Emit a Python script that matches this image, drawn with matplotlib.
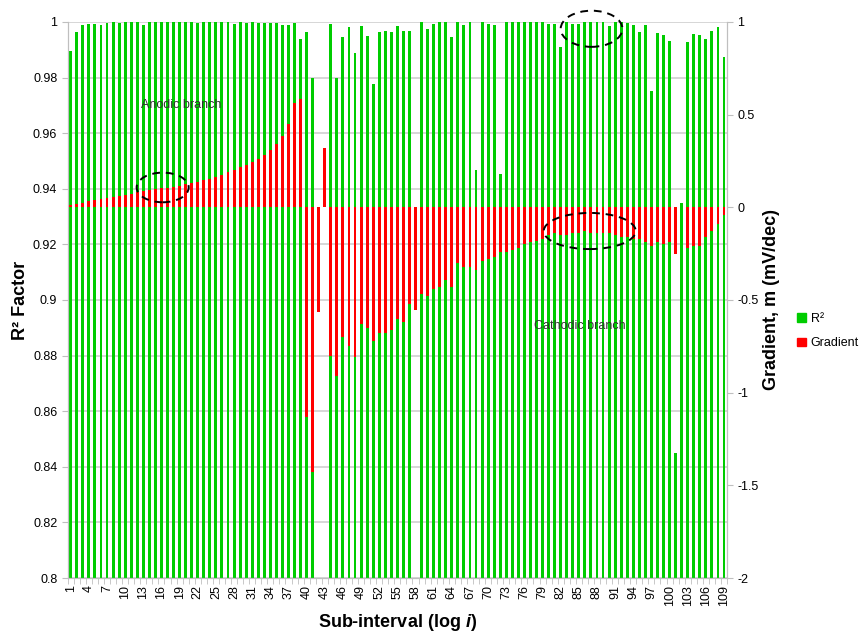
import matplotlib
matplotlib.use("Agg")
import matplotlib.pyplot as plt
from matplotlib.patches import Ellipse, Patch
import numpy as np

plt.rcParams['font.family'] = ['Liberation Sans', 'DejaVu Sans']
plt.rcParams['axes.unicode_minus'] = False
plt.rcParams['mathtext.fontset'] = 'custom'
plt.rcParams['mathtext.it'] = 'Liberation Sans:italic:bold'

# sub-interval index 1..109
intervals = list(range(1, 110))

# R2 factor of each sub-interval (values under 0.8 fall off the axis)
r2 = [0.9895, 0.9964, 0.9988, 0.9994, 0.9994, 0.9990, 0.9995, 0.9998, 0.9995, 0.9998,
      0.9998, 0.9998, 0.9990, 1.0000, 0.9998, 1.0000, 0.9998, 0.9998, 1.0000, 0.9998,
      1.0000, 0.9996, 0.9998, 0.9998, 0.9998, 0.9998, 0.9998, 0.9994, 0.9998, 0.9995,
      0.9998, 0.9995, 0.9995, 0.9995, 0.9995, 0.9990, 0.9988, 0.9995, 0.9937, 0.9962,
      0.9800, 0.7500, 0.7500, 0.9993, 0.9800, 0.9944, 0.9983, 0.9887, 0.9985, 0.9948,
      0.9778, 0.9965, 0.9968, 0.9962, 0.9985, 0.9966, 0.9966, 0.7500, 0.9998, 0.9974,
      0.9992, 0.9998, 0.9998, 0.9944, 0.9998, 0.9990, 1.0000, 0.9468, 0.9998, 0.9992,
      0.9990, 0.9452, 0.9998, 0.9998, 1.0000, 1.0000, 1.0000, 0.9998, 0.9998, 0.9994,
      0.9994, 0.9908, 0.9998, 0.9994, 0.9994, 1.0000, 0.9998, 0.9998, 0.9998, 0.9984,
      0.9998, 1.0000, 0.9995, 0.9990, 0.9965, 0.9988, 0.9753, 0.9960, 0.9953, 0.9932,
      0.8450, 0.9348, 0.9926, 0.9958, 0.9952, 0.9940, 0.9967, 0.9980, 0.9873]

# Tafel gradient of each sub-interval (mV/dec)
gradient = [0.012, 0.018, 0.025, 0.032, 0.038, 0.043, 0.050, 0.056, 0.062, 0.068,
            0.074, 0.080, 0.086, 0.092, 0.098, 0.102, 0.106, 0.111, 0.117, 0.124,
            0.130, 0.138, 0.146, 0.155, 0.165, 0.175, 0.188, 0.200, 0.215, 0.228,
            0.245, 0.263, 0.283, 0.310, 0.340, 0.385, 0.450, 0.565, 0.585, -1.130,
            -1.430, -0.563, 0.322, -0.800, -0.910, -0.700, -0.750, -0.810, -0.630, -0.650,
            -0.720, -0.680, -0.680, -0.660, -0.600, -0.620, -0.520, -0.554, -0.470, -0.480,
            -0.440, -0.430, -0.390, -0.430, -0.300, -0.320, -0.320, -0.340, -0.290, -0.280,
            -0.270, -0.240, -0.240, -0.230, -0.220, -0.200, -0.190, -0.180, -0.170, -0.150,
            -0.140, -0.150, -0.150, -0.140, -0.140, -0.130, -0.140, -0.140, -0.140, -0.140,
            -0.150, -0.160, -0.160, -0.170, -0.170, -0.190, -0.210, -0.190, -0.200, -0.190,
            -0.250, 0.000, -0.220, -0.210, -0.210, -0.160, -0.130, -0.090, -0.040]

left_ticks = [0.8, 0.82, 0.84, 0.86, 0.88, 0.9, 0.92, 0.94, 0.96, 0.98, 1]
right_ticks = [-2, -1.5, -1, -0.5, 0, 0.5, 1]
green = '#00cc00'
red = '#ff0000'
grey = '#bfbfbf'

fig = plt.figure(figsize=(8.68, 6.37), dpi=100)
ax = fig.add_axes([0.078, 0.0926, 0.7596, 0.873])
ax2 = ax.twinx()

ax.bar(intervals, r2, width=0.48, color=green, zorder=2)
ax.set_ylim(0.8, 1)
ax.set_xlim(0.5, 109.5)
ax.set_yticks(left_ticks)
ax.set_yticklabels([f"{v:g}" for v in left_ticks], fontsize=9)
ax.yaxis.grid(True, color='#d0d0d0', lw=1.2)
ax.set_axisbelow(True)

ax2.bar(intervals, gradient, width=0.48, color=red, zorder=2)
ax2.set_ylim(-2, 1)
ax2.set_yticks(right_ticks)
ax2.set_yticklabels([f"{v:g}" for v in right_ticks], fontsize=9)

ax.set_xticks(intervals[::3])
ax.set_xticklabels([str(i) for i in intervals[::3]], rotation=90, fontsize=9)
ax.set_xticks(np.arange(0.5, 110, 1), minor=True)
ax.tick_params(axis='x', which='major', length=0, pad=5)
ax.tick_params(axis='x', which='minor', length=4, color=grey)
ax.tick_params(axis='y', length=4, color=grey)
ax2.tick_params(axis='y', length=4, color=grey)

for a in (ax, ax2):
    a.spines['top'].set_visible(False)
    for s in ('left', 'right', 'bottom'):
        a.spines[s].set_color(grey)

ax.set_ylabel('R² Factor', fontsize=13, fontweight='bold', labelpad=3)
ax2.set_ylabel('Gradient, m (mV/dec)', fontsize=13, fontweight='bold',
               rotation=90, labelpad=3)
ax.set_xlabel('Sub-interval (log $\\mathit{i}$)', fontsize=13, fontweight='bold',
              labelpad=4)

ax.text(19.3, 0.970, 'Anodic branch', fontsize=9, color='#333333',
        ha='center', va='center', zorder=5)
ax.text(85.1, 0.8906, 'Cathodic branch', fontsize=9, color='#333333',
        ha='center', va='center', zorder=5)

ax2.add_patch(Ellipse((16.2, 0.107), 8.6, 0.16, fill=False, ec='black',
                      lw=1.4, ls=(0, (4, 3)), clip_on=False, zorder=6))
ax2.add_patch(Ellipse((87.1, 0.963), 10.2, 0.195, fill=False, ec='black',
                      lw=1.4, ls=(0, (4, 3)), clip_on=False, zorder=6))
ax2.add_patch(Ellipse((86.8, -0.128), 15.2, 0.195, fill=False, ec='black',
                      lw=1.4, ls=(0, (4, 3)), clip_on=False, zorder=6))

handles = [Patch(color=green, label='R²'), Patch(color=red, label='Gradient')]
fig.legend(handles=handles, loc='center left', bbox_to_anchor=(0.905, 0.48),
           frameon=False, fontsize=9, handlelength=0.7, handleheight=0.7,
           handletextpad=0.4, labelspacing=1.0)

fig.savefig('out.png', dpi=100)
